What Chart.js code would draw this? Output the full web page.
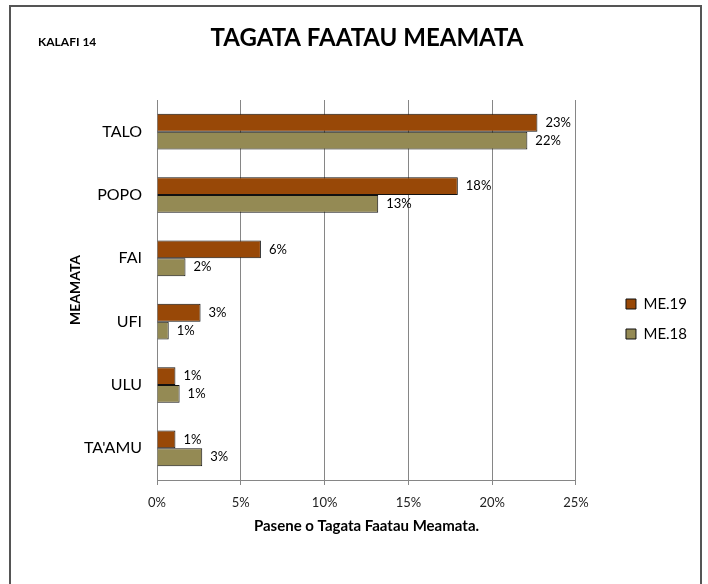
<!DOCTYPE html>
<html>
<head>
<meta charset="utf-8">
<script src="https://cdn.jsdelivr.net/npm/chart.js@4.4.0/dist/chart.umd.min.js"></script>
<style>
  html, body { margin: 0; padding: 0; background: #fff; overflow: hidden; }
  #frame { position: absolute; left: 9px; top: 5px; width: 689px; height: 700px; border: 2px solid #555; }
  #wrap { position: absolute; left: 0; top: 0; width: 708px; height: 584px; }
</style>
</head>
<body>
<div id="frame"></div>
<div id="wrap"><canvas id="myChart" width="708" height="584"></canvas></div>
<script>
var categories = ["TALO", "POPO", "FAI", "UFI", "ULU", "TA'AMU"];
var me19 = [22.7, 17.95, 6.2, 2.6, 1.1, 1.1];
var me18 = [22.1, 13.2, 1.7, 0.7, 1.35, 2.7];
var xTicks = [0, 5, 10, 15, 20, 25];

// percent labels at the end of each bar
var barLabels = {
    id: 'barLabels',
    afterDatasetsDraw: function(chart) {
        var ctx = chart.ctx;
        ctx.save();
        ctx.font = '13px Lato';
        ctx.fillStyle = '#000';
        ctx.textBaseline = 'middle';
        ctx.textAlign = 'left';
        chart.data.datasets.forEach(function(ds, i) {
            chart.getDatasetMeta(i).data.forEach(function(bar, j) {
                ctx.fillText(Math.round(ds.data[j]) + '%', bar.x + 8, bar.y);
            });
        });
        ctx.restore();
    }
};

// small label in the top left corner
var cornerLabel = {
    id: 'cornerLabel',
    afterDraw: function(chart) {
        var ctx = chart.ctx;
        ctx.save();
        ctx.font = 'bold 12px Lato';
        ctx.fillStyle = '#000';
        ctx.textBaseline = 'middle';
        ctx.fillText('KALAFI 14', 38, 42);
        ctx.restore();
    }
};

var ctx = document.getElementById('myChart').getContext('2d');
var chart = new Chart(ctx, {
    type: 'bar',
    data: {
        labels: categories,
        datasets: [
            {
                label: 'ME.19',
                backgroundColor: '#984807',
                borderColor: '#111',
                borderWidth: 1,
                data: me19
            },
            {
                label: 'ME.18',
                backgroundColor: '#948A54',
                borderColor: '#111',
                borderWidth: 1,
                data: me18
            }
        ]
    },
    plugins: [barLabels, cornerLabel],
    options: {
        indexAxis: 'y',
        responsive: false,
        animation: false,
        categoryPercentage: 0.5625,
        barPercentage: 1,
        layout: { padding: { left: 37, right: 11, top: 0, bottom: 49 } },
        plugins: {
            title: {
                display: true,
                text: 'TAGATA FAATAU MEAMATA',
                color: '#000',
                font: { family: 'Lato', size: 24, weight: 'bold' },
                padding: { top: 24, bottom: 47.2 }
            },
            legend: {
                position: 'right',
                fullSize: false,
                title: { display: true, text: '', font: { size: 10 }, padding: { top: 46, bottom: 0 } },
                labels: {
                    boxWidth: 10,
                    boxHeight: 10,
                    padding: 15,
                    color: '#000',
                    font: { family: 'Lato', size: 15 }
                }
            },
            tooltip: { enabled: false }
        },
        scales: {
            x: {
                min: 0,
                max: 25,
                afterBuildTicks: function(s) {
                    s.ticks = xTicks.map(function(v) { return { value: v }; });
                },
                afterFit: function(s) { s.height = 55; },
                ticks: {
                    callback: function(v) { return v + '%'; },
                    color: '#222',
                    padding: 10,
                    font: { family: 'Lato', size: 13 }
                },
                grid: { color: '#868686', tickLength: 5 },
                border: { color: '#868686' },
                title: {
                    display: true,
                    text: 'Pasene o Tagata Faatau Meamata.',
                    color: '#000',
                    font: { family: 'Lato', size: 15, weight: 'bold' },
                    padding: { top: 4, bottom: 0 }
                }
            },
            y: {
                afterFit: function(s) { s.width = 120; },
                grid: { display: false },
                border: { display: true, color: '#868686' },
                ticks: {
                    color: '#000',
                    padding: 7,
                    font: { family: 'Lato', size: 16 }
                },
                title: {
                    display: true,
                    text: 'MEAMATA',
                    color: '#000',
                    font: { family: 'Lato', size: 14, weight: 'bold' },
                    padding: { top: 30, bottom: 0 }
                }
            },
            gap: {
                type: 'linear',
                position: 'right',
                display: true,
                afterFit: function(s) { s.width = 35; },
                grid: { display: false },
                border: { display: false },
                ticks: { display: false }
            }
        }
    }
});
</script>
</body>
</html>
